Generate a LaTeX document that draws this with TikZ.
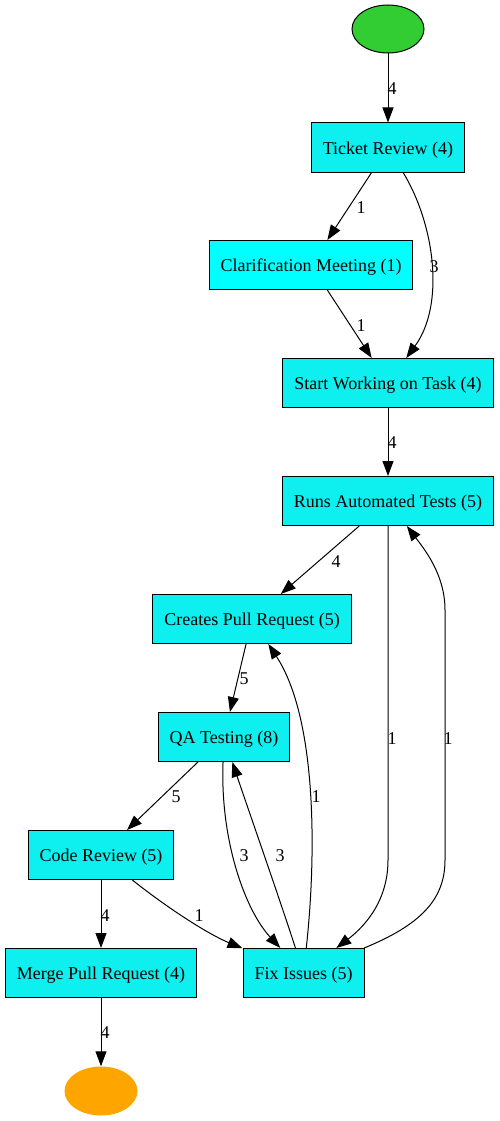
\documentclass[tikz,border=0pt]{standalone}
\usepackage{fontspec}
\setmainfont{Liberation Serif}
\usetikzlibrary{shapes.geometric,arrows.meta}
\definecolor{boxcyan}{RGB}{14,239,239}
\definecolor{boxaqua}{RGB}{0,255,255}
\definecolor{startgreen}{RGB}{50,205,50}
\definecolor{endorange}{RGB}{255,165,0}

\begin{document}
\begin{tikzpicture}[x=1pt,y=-1pt,
    act/.style={draw,line width=1pt,fill=boxcyan,rectangle,minimum height=49pt,inner xsep=11.5pt,text height=16pt,text depth=3pt,font=\fontsize{18}{20}\selectfont},
    flow/.style={draw,line width=1pt,-{Triangle[length=15pt,width=11pt]}},
    lbl/.style={font=\fontsize{18}{20}\selectfont,inner sep=0pt}]
  \useasboundingbox (0,0) rectangle (499,1121);

  % Start and end
  \node[ellipse,draw,line width=1pt,fill=startgreen,minimum width=72pt,minimum height=48pt] (st) at (388,29) {};
  \node[ellipse,fill=endorange,minimum width=73pt,minimum height=49pt] (en) at (101,1091) {};

  % Activities
  \node[act] (tr) at (388,147.5) {Ticket Review (4)};
  \node[act,fill=boxaqua] (cl) at (311,265) {Clarification Meeting (1)};
  \node[act] (sw) at (388,383) {Start Working on Task (4)};
  \node[act] (ra) at (388,501) {Runs Automated Tests (5)};
  \node[act] (cp) at (252,619) {Creates Pull Request (5)};
  \node[act] (qa) at (224,737) {QA Testing (8)};
  \node[act] (cr) at (101,855) {Code Review (5)};
  \node[act] (mp) at (101,973) {Merge Pull Request (4)};
  \node[act] (fx) at (303.5,973) {Fix Issues (5)};

  % Transitions
  \draw[flow] (st) -- (tr);
  \draw[flow] (tr) -- (cl);
  \draw[flow] (tr) .. controls (435,225) and (445,305) .. (sw);
  \draw[flow] (cl) -- (sw);
  \draw[flow] (sw) -- (ra);
  \draw[flow] (ra) -- (cp);
  \draw[flow] (ra) -- (388,860) .. controls (388,905) and (360,930) .. (fx);
  \draw[flow] (fx) .. controls (420,925) and (445,900) .. (445,860) -- (445,610) .. controls (445,575) and (425,550) .. (ra);
  \draw[flow] (cp) -- (qa);
  \draw[flow] (fx) .. controls (316,860) and (318,720) .. (cp);
  \draw[flow] (qa) .. controls (220,840) and (245,910) .. (fx);
  \draw[flow] (fx) .. controls (280,900) and (245,800) .. (qa);
  \draw[flow] (qa) -- (cr);
  \draw[flow] (cr) -- (mp);
  \draw[flow] (cr) .. controls (170,910) and (210,935) .. (fx);
  \draw[flow] (mp) -- (en);

  % Counts
  \node[lbl] (w1) at (392,89) {4};
  \node[lbl] (w2) at (361,208) {1};
  \node[lbl] (w3) at (434,267) {3};
  \node[lbl] (w4) at (361,326) {1};
  \node[lbl] (w5) at (392,443) {4};
  \node[lbl] (w6) at (336,562) {4};
  \node[lbl] (w7) at (392,739) {1};
  \node[lbl] (w8) at (448,739) {1};
  \node[lbl] (w9) at (244,679) {5};
  \node[lbl] (w10) at (316,797) {1};
  \node[lbl] (w11) at (176,797) {5};
  \node[lbl] (w12) at (244,856) {3};
  \node[lbl] (w13) at (280,856) {3};
  \node[lbl] (w14) at (105,916) {4};
  \node[lbl] (w15) at (199,916) {1};
  \node[lbl] (w16) at (105,1033) {4};
\end{tikzpicture}
\end{document}
